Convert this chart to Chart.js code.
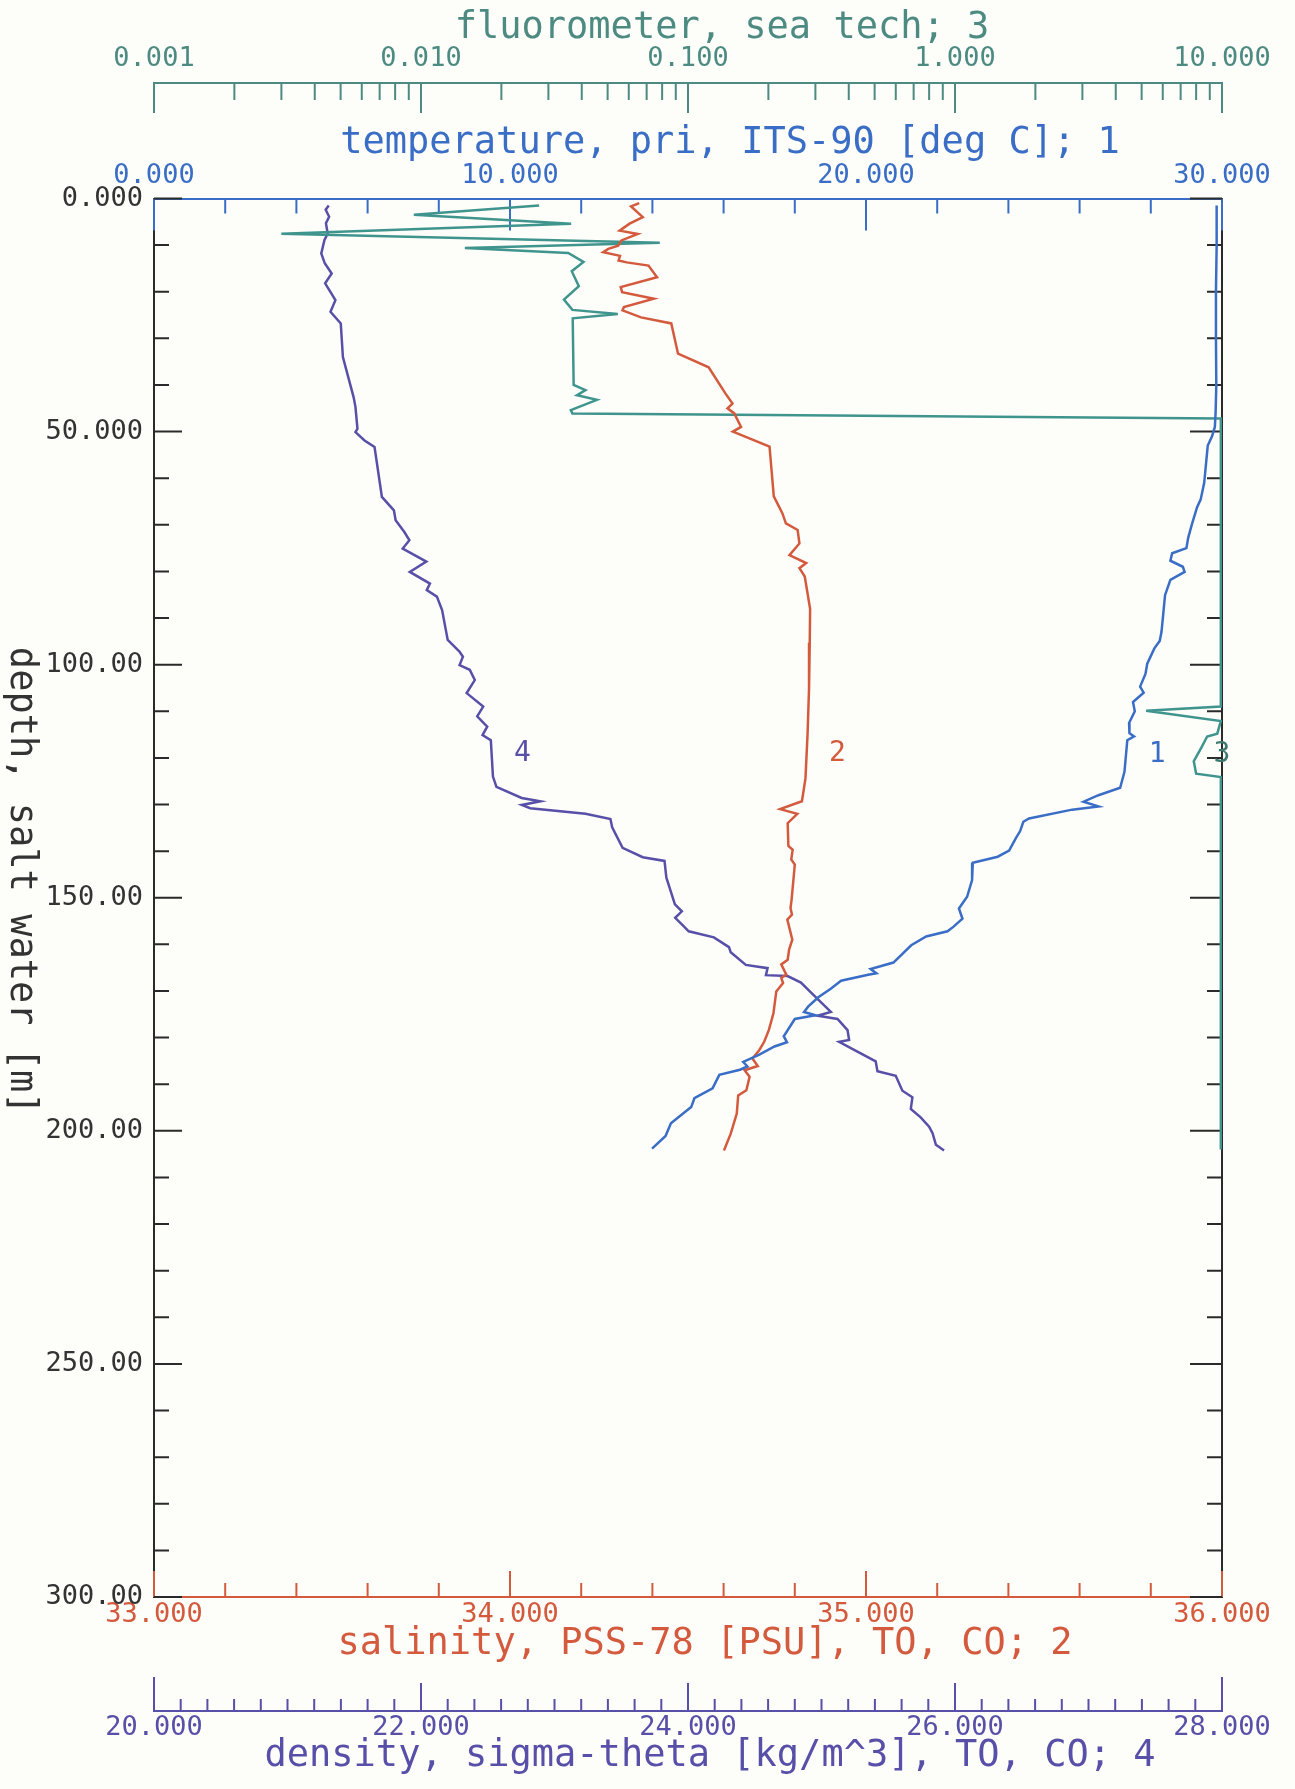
<!DOCTYPE html>
<html>
<head>
<meta charset="utf-8">
<title>CTD profile</title>
<script src="https://cdn.jsdelivr.net/npm/chart.js@4.4.1/dist/chart.umd.min.js"></script>
<style>
  html, body { margin: 0; padding: 0; background: #fdfdf9; }
  #wrap { width: 1295px; height: 1789px; position: relative; }
</style>
</head>
<body>
<div id="wrap"><canvas id="profileChart"></canvas></div>
<script>
// --- profile data (depth in m) ---
const tempDepth = [1.5, 10, 20, 30, 40, 46, 49, 51, 53, 57, 61, 64.6, 66.2, 70, 72.8, 75, 76.1, 77.7, 79, 80.1,
    81.8, 85.1, 89.1, 93, 94.9, 96.5, 99.8, 102, 104.7, 106, 108, 110, 112.5, 114.7, 115.4, 116.2, 123, 126.4, 128, 129.4,
    130.4, 131.1, 133, 133.7, 135.7, 137.2, 139.9, 141.2, 142.5, 146.2, 149.8, 152.3, 154.5, 156.2, 157.2, 158.3, 160.2, 163.9, 165.3, 166.2,
    166.5, 167.8, 169.5, 171.3, 173.3, 174.5, 175.2, 176, 179.7, 181, 181.9, 183.7, 185.2, 186.2, 186.9, 188, 190.9, 193, 194.9, 198.4,
    201.1, 203.8];
const tempValue = [29.85, 29.85, 29.83, 29.83, 29.84, 29.82, 29.8, 29.72, 29.6, 29.55, 29.5, 29.4, 29.3, 29.15, 29.05, 29.0, 28.6, 28.55, 28.9, 28.95,
    28.55, 28.4, 28.35, 28.3, 28.25, 28.1, 27.9, 27.85, 27.7, 27.8, 27.5, 27.55, 27.39, 27.4, 27.53, 27.34, 27.26, 27.14, 26.53, 26.11,
    26.53, 25.79, 24.58, 24.42, 24.33, 24.21, 24.02, 23.70, 23.0, 22.98, 22.84, 22.61, 22.71, 22.46, 22.29, 21.69, 21.27, 20.77, 20.13, 20.29,
    20.06, 19.30, 19.01, 18.67, 18.38, 18.26, 18.58, 18.0, 17.69, 17.78, 17.43, 16.99, 16.55, 16.67, 16.46, 15.88, 15.69, 15.18, 15.09, 14.52,
    14.37, 13.99];

const salDepth = [1.0, 1.7, 4.0, 5.4, 6.9, 7.6, 9.0, 10.1, 10.8, 11.5, 12.3, 13.3, 13.7, 14.4, 16.9, 19.0, 20.1, 21.5, 23.3, 24.0,
    25.5, 26.8, 33.3, 36.2, 41.8, 44.0, 45.0, 46.1, 49.0, 50.0, 53.2, 63.9, 67.5, 69.7, 71.1, 74.0, 76.5, 78.2, 79.3, 81.1,
    88, 95.3, 105, 114.6, 124.4, 129.3, 131, 132, 134, 138.9, 139.7, 141.8, 142.9, 150.4, 152.2, 153.6, 154.7, 159.0, 161.1, 163.3,
    164.3, 166.5, 167.2, 168.3, 170.1, 174.8, 178.4, 180.9, 182.7, 184.5, 186.1, 187.0, 188.4, 191.3, 192.4, 196.3, 200.6, 204.2];
const salValue = [34.363, 34.340, 34.373, 34.336, 34.308, 34.359, 34.313, 34.304, 34.276, 34.262, 34.309, 34.305, 34.328, 34.389, 34.413, 34.311, 34.315, 34.404, 34.320, 34.316,
    34.368, 34.453, 34.472, 34.558, 34.605, 34.625, 34.611, 34.630, 34.649, 34.626, 34.729, 34.741, 34.765, 34.775, 34.808, 34.813, 34.785, 34.832, 34.813, 34.828,
    34.843, 34.842, 34.840, 34.836, 34.830, 34.820, 34.759, 34.807, 34.780, 34.782, 34.794, 34.790, 34.800, 34.791, 34.788, 34.792, 34.779, 34.793, 34.784, 34.780,
    34.762, 34.776, 34.762, 34.767, 34.748, 34.740, 34.727, 34.714, 34.700, 34.681, 34.696, 34.659, 34.673, 34.664, 34.641, 34.637, 34.620, 34.601];

const fluorDepth = [1.5, 3.5, 5.4, 7.55, 9.5, 10.6, 11.7, 13.6, 15.6, 18.8, 21.7, 23.9, 24.8, 25.7, 40.0, 41.1, 42.2, 43.2, 45.4, 46.1,
    47.2, 109.0, 109.9, 112.1, 114.8, 115.4, 117.8, 120.7, 123.4, 124.1, 204];
const fluorValue = [0.0277, 0.0094, 0.0365, 0.0030, 0.0784, 0.0146, 0.0356, 0.0406, 0.0367, 0.039, 0.0343, 0.0369, 0.0546, 0.037, 0.0373, 0.0413, 0.0384, 0.0456, 0.0364, 0.0369,
    9.9, 9.9, 5.2, 9.9, 9.6, 8.8, 8.37, 7.84, 8.0, 9.9, 9.9];

const densDepth = [1.5, 2.4, 3.9, 5.3, 7.5, 8.9, 11.8, 13.9, 16.1, 18.2, 21.8, 24.3, 26.8, 34.0, 42.6, 44.7, 49.4, 50.1, 51.9, 53.3,
    64.0, 66.9, 69.0, 71.5, 73.3, 75.1, 77.9, 80.1, 82.6, 84.0, 85.4, 88.3, 94.7, 97.2, 98.3, 100.1, 101.1, 103.3, 106.1, 109.0,
    111.1, 113.3, 115.1, 116.2, 124.0, 126.2, 128.6, 129.3, 130.1, 130.8, 132.0, 133.1, 134.9, 139.3, 141.3, 142.1, 145.7, 151.4, 152.9, 154.3,
    156.1, 157.2, 158.5, 160.6, 161.7, 164.4, 165.1, 166.6, 166.8, 168.2, 171.0, 174.5, 175.3, 176.0, 178.4, 180.5, 180.9, 183.0, 185.1, 187.2,
    188.2, 191.4, 192.8, 195.3, 197.1, 199.1, 200.5, 203.0, 204.2];
const densValue = [21.309, 21.286, 21.312, 21.288, 21.301, 21.277, 21.253, 21.279, 21.331, 21.282, 21.359, 21.322, 21.399, 21.415, 21.495, 21.509, 21.524, 21.509, 21.577, 21.652,
    21.707, 21.797, 21.810, 21.874, 21.913, 21.863, 22.040, 21.916, 22.067, 22.043, 22.119, 22.158, 22.200, 22.288, 22.314, 22.289, 22.365, 22.403, 22.342, 22.466,
    22.421, 22.496, 22.461, 22.523, 22.539, 22.565, 22.754, 22.894, 22.755, 22.818, 23.232, 23.419, 23.432, 23.510, 23.661, 23.824, 23.838, 23.902, 23.954, 23.904,
    23.967, 24.005, 24.194, 24.307, 24.320, 24.433, 24.596, 24.584, 24.746, 24.846, 24.945, 25.070, 24.971, 25.120, 25.195, 25.207, 25.132, 25.269, 25.406, 25.419,
    25.556, 25.606, 25.681, 25.669, 25.743, 25.806, 25.832, 25.857, 25.918];

// --- axis tick labels ---
const tempLabelValues = [0, 10, 20, 30];
const tempLabelText = ['0.000', '10.000', '20.000', '30.000'];
const fluorLabelValues = [0.001, 0.01, 0.1, 1, 10];
const fluorLabelText = ['0.001', '0.010', '0.100', '1.000', '10.000'];
const salLabelValues = [33, 34, 35, 36];
const salLabelText = ['33.000', '34.000', '35.000', '36.000'];
const densLabelValues = [20, 22, 24, 26, 28];
const densLabelText = ['20.000', '22.000', '24.000', '26.000', '28.000'];
const depthLabelValues = [0, 50, 100, 150, 200, 250, 300];
const depthLabelText = ['0.000', '50.000', '100.00', '150.00', '200.00', '250.00', '300.00'];

// axis titles (the plotter put them a little right of centre)
const titleAxis = ['xF', 'xT', 'xS', 'xD'];
const titleText = ['fluorometer, sea tech; 3', 'temperature, pri, ITS-90 [deg C]; 1',
    'salinity, PSS-78 [PSU], TO, CO; 2', 'density, sigma-theta [kg/m^3], TO, CO; 4'];
const depthTitle = 'depth, salt water [m]';

// curve numbers written next to each profile
const tagText = ['1', '2', '3', '4'];
const tagAxis = ['xT', 'xS', 'xF', 'xD'];
const tagValue = [28.18, 34.92, 10, 22.76];
const tagDepth = [119.4, 119.1, 119.4, 119.1];

const BLUE = '#3a6ec6';
const RED = '#d45a3e';
const TEAL = '#3f958e';
const TEAL_TXT = '#4d8b82';
const PURPLE = '#5850a8';
const INK = '#2a2a2a';
const MONO = 'DejaVu Sans Mono';
const tagColor = [BLUE, RED, '#3f7a72', PURPLE];
const titleColor = [TEAL_TXT, BLUE, RED, PURPLE];
// title centre: shift from plot centre, and y
const titlePlace = [[34, 28], [42, 143], [17, 1644], [22, 1756]];

function steps(from, to, step) {
    const out = [];
    const n = Math.round((to - from) / step);
    for (let i = 0; i <= n; i++) out.push(+(from + i * step).toFixed(6));
    return out;
}

function logSteps(fromExp, toExp) {
    const out = [];
    for (let e = fromExp; e < toExp; e++) {
        for (let m = 1; m <= 9; m++) out.push(+(m * Math.pow(10, e)).toPrecision(6));
    }
    out.push(Math.pow(10, toExp));
    return out;
}

const tempTicks = steps(0, 30, 2);
const fluorTicks = logSteps(-3, 1);
const salTicks = steps(33, 36, 0.2);
const densTicks = steps(20, 28, 0.2);
const depthTicks = steps(0, 300, 10);

const isWhole = (v, m) => Math.abs(v / m - Math.round(v / m)) < 1e-6;

// inward tick marks: colour and length per axis
const tickSpec = {
    xT: { color: BLUE, len: v => isWhole(v, 10) ? 32 : 15 },
    xF: { color: TEAL_TXT, len: v => isWhole(Math.log10(v), 1) ? 30 : 17 },
    xS: { color: RED, len: v => isWhole(v, 1) ? 26 : 14 },
    xD: { color: PURPLE, len: v => (v === 20 || v === 28) ? 34 : (isWhole(v, 2) ? 28 : 12) },
    y: { color: INK, len: v => isWhole(v, 50) ? 28 : 15 },
    yR: { color: INK, len: v => isWhole(v, 50) ? 32 : 15 }
};

function zip(depths, values) {
    return depths.map((d, i) => ({ x: values[i], y: d }));
}

function matchLabel(values, texts, relative) {
    return function (v) {
        for (let i = 0; i < values.length; i++) {
            const tol = relative ? values[i] * 1e-6 : 1e-6;
            if (Math.abs(values[i] - v) <= tol) return texts[i];
        }
        return '';
    };
}

function fixedTicks(list) {
    return function (scale) {
        scale.ticks = list.map(v => ({ value: v }));
    };
}

const tickFont = { family: MONO, size: 27 };

const profilePlugin = {
    id: 'profileDecor',
    beforeDatasetsDraw(chart) {
        const ctx = chart.ctx;
        ctx.save();
        ctx.lineWidth = 2;
        ['xF', 'xT', 'xS', 'xD', 'yR', 'y'].forEach(id => {
            const scale = chart.scales[id];
            const spec = tickSpec[id];
            if (!scale || !spec) return;
            ctx.strokeStyle = spec.color;
            ctx.beginPath();
            scale.ticks.forEach(t => {
                const p = scale.getPixelForValue(t.value);
                const len = spec.len(t.value);
                if (scale.position === 'top') {
                    ctx.moveTo(p, scale.bottom); ctx.lineTo(p, scale.bottom + len);
                } else if (scale.position === 'bottom') {
                    ctx.moveTo(p, scale.top); ctx.lineTo(p, scale.top - len);
                } else if (scale.position === 'left') {
                    ctx.moveTo(scale.right, p); ctx.lineTo(scale.right + len, p);
                } else {
                    ctx.moveTo(scale.left, p); ctx.lineTo(scale.left - len, p);
                }
            });
            ctx.stroke();
        });
        ctx.restore();
    },
    afterDatasetsDraw(chart) {
        const ctx = chart.ctx;
        const area = chart.chartArea;
        const midX = (area.left + area.right) / 2;
        ctx.save();
        ctx.textAlign = 'center';
        ctx.textBaseline = 'middle';
        // curve numbers
        ctx.font = '28px "' + MONO + '"';
        tagText.forEach((t, i) => {
            ctx.fillStyle = tagColor[i];
            const x = chart.scales[tagAxis[i]].getPixelForValue(tagValue[i]);
            const y = chart.scales.y.getPixelForValue(tagDepth[i]);
            ctx.fillText(t, x, y);
        });
        // axis titles
        ctx.font = '37px "' + MONO + '"';
        titleText.forEach((t, i) => {
            if (!chart.scales[titleAxis[i]]) return;
            ctx.fillStyle = titleColor[i];
            ctx.fillText(t, midX + titlePlace[i][0], titlePlace[i][1]);
        });
        // depth title, reading top to bottom
        ctx.fillStyle = '#333333';
        ctx.translate(21, (area.top + area.bottom) / 2 - 17);
        ctx.rotate(Math.PI / 2);
        ctx.fillText(depthTitle, 0, 0);
        ctx.restore();
    }
};

const lineStyle = { pointRadius: 0, borderWidth: 2.5, showLine: true, tension: 0, fill: false, yAxisID: 'y' };
const noGrid = { display: false, drawTicks: false };

new Chart(document.getElementById('profileChart'), {
    type: 'scatter',
    data: {
        datasets: [
            Object.assign({ label: 'temperature', data: zip(tempDepth, tempValue), xAxisID: 'xT', borderColor: BLUE }, lineStyle),
            Object.assign({ label: 'salinity', data: zip(salDepth, salValue), xAxisID: 'xS', borderColor: RED }, lineStyle),
            Object.assign({ label: 'fluorometer', data: zip(fluorDepth, fluorValue), xAxisID: 'xF', borderColor: TEAL }, lineStyle),
            Object.assign({ label: 'density', data: zip(densDepth, densValue), xAxisID: 'xD', borderColor: PURPLE }, lineStyle)
        ]
    },
    options: {
        responsive: true,
        maintainAspectRatio: false,
        animation: false,
        events: [],
        layout: { padding: { top: 0, left: 0, right: 0, bottom: 10 } },
        plugins: {
            legend: { display: false },
            tooltip: { enabled: false }
        },
        scales: {
            xF: {
                type: 'logarithmic', position: 'top', weight: 1, min: 0.001, max: 10,
                afterBuildTicks: fixedTicks(fluorTicks),
                afterFit: s => { s.height = 83; },
                grid: noGrid,
                border: { display: true, color: TEAL_TXT, width: 2 },
                ticks: { autoSkip: false, maxRotation: 0, minRotation: 0, padding: 8, color: TEAL_TXT, font: tickFont,
                    callback: matchLabel(fluorLabelValues, fluorLabelText, true) },
                title: { display: false }
            },
            xT: {
                type: 'linear', position: 'top', weight: 0, min: 0, max: 30,
                afterBuildTicks: fixedTicks(tempTicks),
                afterFit: s => { s.height = 115.5; },
                grid: noGrid,
                border: { display: true, color: BLUE, width: 2 },
                ticks: { autoSkip: false, maxRotation: 0, minRotation: 0, padding: 6, color: BLUE, font: tickFont,
                    callback: matchLabel(tempLabelValues, tempLabelText) },
                title: { display: false }
            },
            xS: {
                type: 'linear', position: 'bottom', weight: 0, min: 33, max: 36,
                afterBuildTicks: fixedTicks(salTicks),
                afterFit: s => { s.height = 114; },
                grid: noGrid,
                border: { display: true, color: RED, width: 2 },
                ticks: { autoSkip: false, maxRotation: 0, minRotation: 0, padding: 2, color: RED, font: tickFont,
                    callback: matchLabel(salLabelValues, salLabelText) },
                title: { display: false }
            },
            xD: {
                type: 'linear', position: 'bottom', weight: 1, min: 20, max: 28,
                afterBuildTicks: fixedTicks(densTicks),
                afterFit: s => { s.height = 68; },
                grid: noGrid,
                border: { display: true, color: PURPLE, width: 2 },
                ticks: { autoSkip: false, maxRotation: 0, minRotation: 0, padding: 1, color: PURPLE, font: tickFont,
                    callback: matchLabel(densLabelValues, densLabelText) },
                title: { display: false }
            },
            y: {
                type: 'linear', position: 'left', min: 0, max: 300, reverse: true,
                afterBuildTicks: fixedTicks(depthTicks),
                afterFit: s => { s.width = 154; },
                grid: noGrid,
                border: { display: true, color: INK, width: 2 },
                ticks: { autoSkip: false, padding: 11, color: '#333333', font: tickFont,
                    callback: matchLabel(depthLabelValues, depthLabelText) },
                title: { display: false }
            },
            yR: {
                type: 'linear', position: 'right', min: 0, max: 300, reverse: true,
                afterBuildTicks: fixedTicks(depthTicks),
                afterFit: s => { s.width = 73; },
                grid: noGrid,
                border: { display: true, color: INK, width: 2 },
                ticks: { display: false }
            }
        }
    },
    plugins: [profilePlugin]
});
</script>
</body>
</html>
